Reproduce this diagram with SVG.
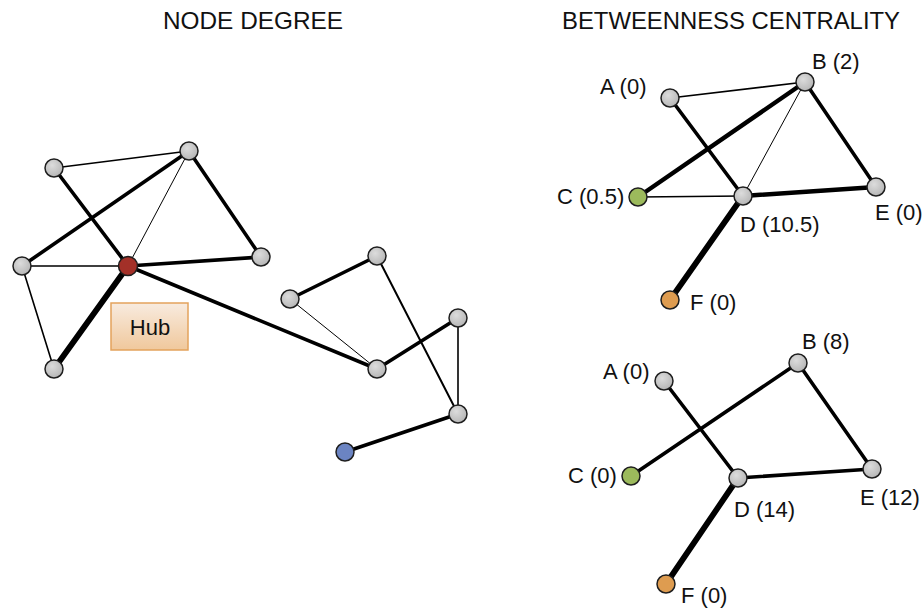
<svg xmlns="http://www.w3.org/2000/svg" width="922" height="610" viewBox="0 0 922 610">
<defs>
<radialGradient id="gGray" cx="0.4" cy="0.35" r="0.7">
<stop offset="0" stop-color="#dcdcdc"/><stop offset="1" stop-color="#b4b4b4"/>
</radialGradient>
<linearGradient id="gHub" x1="0" y1="0" x2="0" y2="1">
<stop offset="0" stop-color="#f8ebdf"/><stop offset="1" stop-color="#f0c89c"/>
</linearGradient>
<style>
.n{stroke:#1e1e1e;stroke-width:1.5}
.gray{fill:url(#gGray)}
.t{font-family:"Liberation Sans",Arial,sans-serif;fill:#111}
.title{font-size:24px}
.lbl{font-size:22px}
.e{stroke:#000;fill:none;stroke-linecap:round}
.w1{stroke-width:1}
.w15{stroke-width:1.6}
.w2{stroke-width:2}
.w35{stroke-width:3.6}
.w45{stroke-width:4.4}
.w55{stroke-width:5.8}
</style>
</defs>
<rect width="922" height="610" fill="#fff"/>
<text class="t title" x="163" y="29" textLength="180" lengthAdjust="spacingAndGlyphs">NODE DEGREE</text>
<text class="t title" x="562" y="29" textLength="338" lengthAdjust="spacingAndGlyphs">BETWEENNESS CENTRALITY</text>
<g id="connectors">
<line class="e w15" x1="54" y1="168" x2="189" y2="151"/>
<line class="e w35" x1="54" y1="168" x2="128" y2="266"/>
<line class="e w35" x1="189" y1="151" x2="22" y2="266"/>
<line class="e w1" x1="189" y1="151" x2="128" y2="266"/>
<line class="e w35" x1="189" y1="151" x2="261" y2="257"/>
<line class="e w15" x1="22" y1="266" x2="128" y2="266"/>
<line class="e w35" x1="128" y1="266" x2="261" y2="257"/>
<line class="e w15" x1="22" y1="266" x2="54" y2="369"/>
<line class="e w55" x1="128" y1="266" x2="54" y2="369"/>
<line class="e w35" x1="128" y1="266" x2="377" y2="369"/>
<line class="e w35" x1="290" y1="299" x2="377" y2="256"/>
<line class="e w1" x1="290" y1="299" x2="377" y2="369"/>
<line class="e w2" x1="377" y1="256" x2="458" y2="414"/>
<line class="e w35" x1="377" y1="369" x2="458" y2="318"/>
<line class="e w15" x1="458" y1="318" x2="458" y2="414"/>
<line class="e w35" x1="458" y1="414" x2="345" y2="452"/>
<line class="e w15" x1="670" y1="98" x2="805" y2="82"/>
<line class="e w35" x1="670" y1="98" x2="743" y2="196"/>
<line class="e w45" x1="638" y1="197" x2="805" y2="82"/>
<line class="e w15" x1="638" y1="197" x2="743" y2="196"/>
<line class="e w1" x1="805" y1="82" x2="743" y2="196"/>
<line class="e w35" x1="805" y1="82" x2="876" y2="187"/>
<line class="e w45" x1="743" y1="196" x2="876" y2="187"/>
<line class="e w55" x1="743" y1="196" x2="670" y2="300"/>
<line class="e w35" x1="664" y1="381" x2="738" y2="478"/>
<line class="e w35" x1="631" y1="476" x2="798" y2="363"/>
<line class="e w35" x1="798" y1="363" x2="872" y2="469"/>
<line class="e w35" x1="738" y1="478" x2="872" y2="469"/>
<line class="e w55" x1="738" y1="478" x2="666" y2="584"/>
</g>
<g id="hub-label"><rect x="111" y="303" width="77" height="47" fill="url(#gHub)" stroke="#e3a35c" stroke-width="1.5"/><text class="t lbl" x="150" y="335" text-anchor="middle">Hub</text></g>
<g id="nd1"><circle class="n gray" cx="54" cy="168" r="9"/></g>
<g id="nd2"><circle class="n gray" cx="189" cy="151" r="9"/></g>
<g id="nd3"><circle class="n gray" cx="22" cy="266" r="9"/></g>
<g id="nd-hub"><circle class="n" cx="128" cy="266" r="9.5" fill="#a33028"/></g>
<g id="nd5"><circle class="n gray" cx="261" cy="257" r="9"/></g>
<g id="nd6"><circle class="n gray" cx="54" cy="369" r="9"/></g>
<g id="nd7"><circle class="n gray" cx="290" cy="299" r="9"/></g>
<g id="nd8"><circle class="n gray" cx="377" cy="256" r="9"/></g>
<g id="nd9"><circle class="n gray" cx="377" cy="369" r="9"/></g>
<g id="nd10"><circle class="n gray" cx="458" cy="318" r="9"/></g>
<g id="nd11"><circle class="n gray" cx="458" cy="414" r="9"/></g>
<g id="nd12"><circle class="n" cx="345" cy="452" r="9" fill="#6b84c2"/></g>
<g id="t-A"><circle class="n gray" cx="670" cy="98" r="9"/><text class="t lbl" x="600" y="94">A (0)</text></g>
<g id="t-B"><circle class="n gray" cx="805" cy="82" r="9"/><text class="t lbl" x="812" y="69">B (2)</text></g>
<g id="t-C"><circle class="n" cx="638" cy="197" r="9" fill="#9cba5c"/><text class="t lbl" x="557" y="204">C (0.5)</text></g>
<g id="t-D"><circle class="n gray" cx="743" cy="196" r="9" /><text class="t lbl" x="740" y="232">D (10.5)</text></g>
<g id="t-E"><circle class="n gray" cx="876" cy="187" r="9"/><text class="t lbl" x="875" y="220">E (0)</text></g>
<g id="t-F"><circle class="n" cx="670" cy="300" r="9" fill="#de9c50"/><text class="t lbl" x="690" y="310">F (0)</text></g>
<g id="b-A"><circle class="n gray" cx="664" cy="381" r="9"/><text class="t lbl" x="603" y="379">A (0)</text></g>
<g id="b-B"><circle class="n gray" cx="798" cy="363" r="9"/><text class="t lbl" x="802" y="349">B (8)</text></g>
<g id="b-C"><circle class="n" cx="631" cy="476" r="9" fill="#9cba5c"/><text class="t lbl" x="568" y="483">C (0)</text></g>
<g id="b-D"><circle class="n gray" cx="738" cy="478" r="9"/><text class="t lbl" x="734" y="517">D (14)</text></g>
<g id="b-E"><circle class="n gray" cx="872" cy="469" r="9"/><text class="t lbl" x="860" y="505">E (12)</text></g>
<g id="b-F"><circle class="n" cx="666" cy="584" r="9" fill="#de9c50"/><text class="t lbl" x="681" y="603">F (0)</text></g>
</svg>
